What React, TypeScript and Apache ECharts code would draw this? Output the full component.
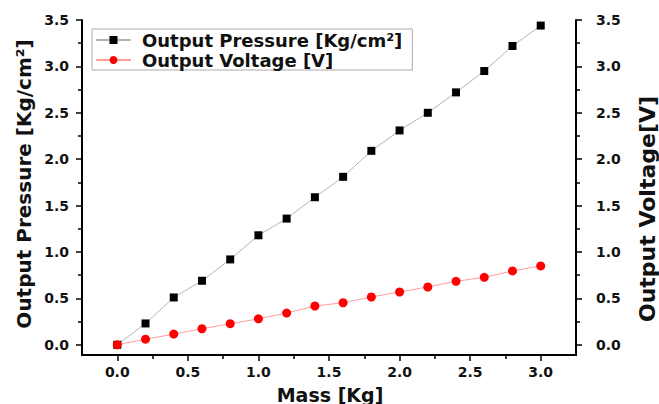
import React, { useEffect, useRef } from "react";
import * as echarts from "echarts";

const mass = [0, 0.2, 0.4, 0.6, 0.8, 1.0, 1.2, 1.4, 1.6, 1.8, 2.0, 2.2, 2.4, 2.6, 2.8, 3.0];
const pressure = [0, 0.23, 0.51, 0.69, 0.92, 1.18, 1.36, 1.59, 1.81, 2.09, 2.31, 2.5, 2.72, 2.95, 3.22, 3.44];
const voltage = [0, 0.06, 0.115, 0.173, 0.227, 0.28, 0.342, 0.418, 0.453, 0.515, 0.569, 0.623, 0.684, 0.727, 0.796, 0.85];
const xMajorTicks = [0, 0.5, 1.0, 1.5, 2.0, 2.5, 3.0];
const xMinorTicks = [0.25, 0.75, 1.25, 1.75, 2.25, 2.75];
const yMajorTicks = [0, 0.5, 1.0, 1.5, 2.0, 2.5, 3.0, 3.5];
const yMinorTicks = [0.25, 0.75, 1.25, 1.75, 2.25, 2.75, 3.25];

const FONT = "DejaVu Sans";

export default function App() {
  const ref = useRef<HTMLDivElement>(null);
  useEffect(() => {
    if (!ref.current) return;
    const chart = echarts.init(ref.current, null, { renderer: "svg" });
    const X_MIN = -0.25, X_MAX = 3.25, Y_MIN = -0.11, Y_MAX = 3.5;
    const labelStyle = { color: "#111", fontFamily: FONT, fontWeight: "bold" as const, fontSize: 14 };
    const fmt = (v: number) => v.toFixed(1);
    const mainY = (pos: "left" | "right") => ({
      type: "value",
      position: pos,
      min: Y_MIN,
      max: Y_MAX,
      axisLine: { show: true, onZero: false, lineStyle: { color: "#000", width: 2 } },
      axisTick: { show: true, inside: false, length: 6, customValues: yMajorTicks, lineStyle: { color: "#000", width: 1.5 } },
      axisLabel: { show: true, customValues: yMajorTicks, formatter: fmt, margin: pos === "left" ? 13 : 20, ...labelStyle },
      splitLine: { show: false },
    });
    const minorY = (pos: "left" | "right") => ({
      type: "value",
      position: pos,
      min: Y_MIN,
      max: Y_MAX,
      axisLine: { show: false, onZero: false },
      axisTick: { show: true, inside: false, length: 4, customValues: yMinorTicks, lineStyle: { color: "#000", width: 1.5 } },
      axisLabel: { show: false },
      splitLine: { show: false },
    });
    chart.setOption({
      animation: false,
      backgroundColor: "#fff",
      grid: { left: 82, right: 83, top: 20, bottom: 49, containLabel: false },
      legend: {
        left: 92,
        top: 29,
        orient: "vertical",
        borderColor: "#aaa",
        borderWidth: 1,
        padding: [2, 10, 1, 3],
        itemGap: 2,
        itemWidth: 35,
        itemHeight: 10,
        textStyle: { fontFamily: FONT, fontWeight: "bold", fontSize: 18, color: "#111", padding: [0, 0, 0, 6] },
        data: ["Output Pressure [Kg/cm²]", "Output Voltage [V]"],
      },
      xAxis: [
        {
          type: "value",
          position: "bottom",
          min: X_MIN,
          max: X_MAX,
          axisLine: { show: true, onZero: false, lineStyle: { color: "#000", width: 2 } },
          axisTick: { show: true, length: 6, customValues: xMajorTicks, lineStyle: { color: "#000", width: 1.5 } },
          axisLabel: { show: true, customValues: xMajorTicks, formatter: fmt, margin: 10, ...labelStyle },
          splitLine: { show: false },
        },
        {
          type: "value",
          position: "bottom",
          min: X_MIN,
          max: X_MAX,
          axisLine: { show: false, onZero: false },
          axisTick: { show: true, length: 4, customValues: xMinorTicks, lineStyle: { color: "#000", width: 1.5 } },
          axisLabel: { show: false },
          splitLine: { show: false },
        },
      ],
      yAxis: [mainY("left"), mainY("right"), minorY("left"), minorY("right")],
      graphic: [
        {
          type: "text",
          x: 24,
          y: 184,
          rotation: Math.PI / 2,
          style: { text: "Output Pressure [Kg/cm²]", fill: "#111", font: `bold 20px "${FONT}"`, align: "center", verticalAlign: "middle" },
        },
        {
          type: "text",
          x: 647,
          y: 209,
          rotation: Math.PI / 2,
          style: { text: "Output Voltage[V]", fill: "#111", font: `bold 22px "${FONT}"`, align: "center", verticalAlign: "middle" },
        },
        {
          type: "text",
          x: 330,
          y: 404,
          style: { text: "Mass [Kg]", fill: "#111", font: `bold 19px "${FONT}"`, align: "center", verticalAlign: "bottom" },
        },
      ],
      series: [
        {
          name: "Output Pressure [Kg/cm²]",
          type: "line",
          xAxisIndex: 0,
          yAxisIndex: 0,
          data: mass.map((m, i) => [m, pressure[i]]),
          symbol: "rect",
          symbolSize: 8,
          itemStyle: { color: "#000" },
          lineStyle: { color: "#b4b4b4", width: 1 },
        },
        {
          name: "Output Voltage [V]",
          type: "line",
          xAxisIndex: 0,
          yAxisIndex: 1,
          data: mass.map((m, i) => [m, voltage[i]]),
          symbol: "circle",
          symbolSize: 9,
          itemStyle: { color: "#ff0000" },
          lineStyle: { color: "#ff9c9c", width: 1 },
        },
      ],
    });
    return () => chart.dispose();
  }, []);
  return <div ref={ref} style={{ position: "fixed", left: 0, top: 0, width: 659, height: 404 }} />;
}
